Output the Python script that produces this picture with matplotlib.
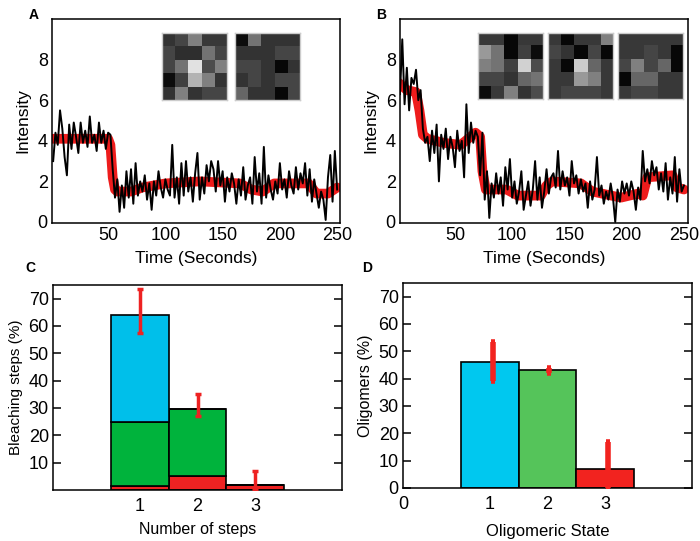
import numpy as np
import matplotlib
matplotlib.use('Agg')
from matplotlib import pyplot as plt

plt.rcParams['font.family'] = ['Liberation Sans', 'DejaVu Sans']

# --- traces (2 s sampling) ---
t_trace = list(range(2, 251, 2))
trace_a = [3.0, 4.4, 3.8, 5.5, 4.6, 3.2, 2.3, 4.8, 3.6, 4.9,
           4.2, 3.4, 4.9, 3.9, 4.5, 3.7, 5.2, 3.9, 4.3, 3.5,
           4.9, 3.9, 4.5, 3.6, 4.4, 4.3,
           2.6, 1.2, 2.1, 0.5,
           1.8, 0.7, 2.5, 1.2, 2.6, 0.9, 2.9, 1.3, 2.0, 1.5,
           2.3, 1.1, 1.9, 0.6, 2.0, 1.3, 2.5, 1.7, 1.2, 2.1,
           1.6, 1.3, 3.8, 1.2, 2.2, 0.9, 2.9, 1.3, 3.0, 1.5,
           2.2, 1.0, 2.4, 3.4, 1.1, 2.2, 1.4, 2.8, 2.0, 3.0,
           2.6, 1.5, 3.0, 1.8, 2.5, 1.0, 2.2, 1.5, 2.4, 1.9,
           0.9, 2.1, 1.3, 2.7, 1.1, 1.8, 2.2, 0.9, 3.2, 1.5,
           2.4, 0.9, 3.7, 1.2, 2.3, 1.6, 1.1, 2.0, 1.4, 2.9,
           1.6, 2.1, 1.2, 2.5, 1.8, 1.4, 2.7, 1.6, 2.4, 1.9,
           2.9, 1.3, 2.6, 1.0, 2.1, 1.4, 0.7, 1.5, 1.1, 0.1,
           2.2, 3.3, 1.0, 3.5, 1.6]
trace_b = [6.3, 9.0, 5.8, 7.6, 5.5, 7.1, 6.8, 7.5, 6.0, 6.5,
           4.6, 3.9, 4.2, 3.0, 4.5, 3.4, 4.8, 2.0, 4.3, 3.6,
           4.6, 3.1, 4.2, 3.7, 2.7, 4.5, 3.5, 4.0, 2.2, 5.8,
           3.4, 4.9, 3.9, 4.5, 4.2, 2.3, 4.4, 1.1, 2.5, 0.2,
           1.9, 1.2, 2.4, 1.4, 2.2, 0.8, 2.7, 1.6, 3.1, 1.2,
           2.0, 0.9, 1.5, 2.5, 0.6, 1.3, 2.0, 0.8, 1.6, 3.0,
           1.1, 2.2, 0.7, 1.5, 2.6, 1.4, 2.2, 2.4, 1.7, 3.5,
           1.6, 2.5, 1.8, 2.2, 1.3, 3.0, 1.9, 2.3, 1.4, 2.1,
           1.5, 1.9, 0.7, 2.0, 1.1, 1.6, 3.2, 1.3, 1.8, 0.9,
           1.5, 1.1, 1.9, 1.2, 0.0, 1.6, 1.0, 2.0, 1.4, 1.9,
           1.3, 2.0, 1.5, 0.6, 1.7, 1.1, 3.5, 2.0, 2.6, 1.9,
           3.0, 2.3, 2.7, 1.6, 2.4, 1.5, 2.9, 1.1, 2.2, 1.4,
           3.2, 1.0, 2.6, 1.5, 1.8]

# step fits (red)
t_fit_a = [0, 50, 52, 54, 56, 58, 70, 80, 100, 130, 165, 175, 185, 195, 225, 232, 242, 250]
fit_a = [4.1, 4.1, 3.8, 2.2, 1.6, 1.5, 1.5, 1.7, 1.9, 2.0, 1.9, 1.6, 1.5, 1.9, 1.9, 1.4, 1.4, 1.7]
t_fit_b = [0, 8, 16, 19, 22, 26, 40, 55, 68, 72, 74, 77, 95, 105, 125, 130, 135,
           160, 170, 195, 210, 214, 218, 240, 244, 250]
fit_b = [6.9, 6.5, 6.4, 5.5, 4.3, 4.1, 3.9, 3.8, 4.4, 4.2, 2.5, 1.6, 1.6, 1.3, 1.3, 1.8, 2.0,
         1.9, 1.5, 1.2, 1.4, 1.3, 2.2, 2.3, 1.7, 1.6]

# spot images (5x5, gray level)
img_a1 = [[0.20, 0.27, 0.50, 0.22, 0.22],
          [0.27, 0.18, 0.18, 0.45, 0.27],
          [0.27, 0.45, 0.88, 0.30, 0.50],
          [0.05, 0.25, 0.70, 0.50, 0.20],
          [0.20, 0.50, 0.20, 0.27, 0.27]]
img_a2 = [[0.05, 0.45, 0.20, 0.20, 0.20],
          [0.20, 0.20, 0.20, 0.27, 0.27],
          [0.27, 0.27, 0.20, 0.03, 0.20],
          [0.20, 0.27, 0.20, 0.27, 0.27],
          [0.40, 0.20, 0.20, 0.03, 0.27]]
img_b1 = [[0.22, 0.22, 0.03, 0.22, 0.22],
          [0.60, 0.45, 0.03, 0.25, 0.05],
          [0.50, 0.45, 0.25, 0.82, 0.30],
          [0.27, 0.27, 0.20, 0.40, 0.45],
          [0.05, 0.22, 0.50, 0.20, 0.30]]
img_b2 = [[0.22, 0.03, 0.22, 0.22, 0.50],
          [0.27, 0.20, 0.03, 0.27, 0.03],
          [0.22, 0.03, 0.80, 0.40, 0.22],
          [0.22, 0.22, 0.60, 0.50, 0.22],
          [0.22, 0.27, 0.27, 0.27, 0.22]]
img_b3 = [[0.22, 0.22, 0.22, 0.22, 0.22],
          [0.22, 0.22, 0.27, 0.22, 0.03],
          [0.27, 0.50, 0.27, 0.40, 0.03],
          [0.03, 0.40, 0.40, 0.22, 0.22],
          [0.22, 0.27, 0.27, 0.22, 0.22]]

# panel C: bleaching steps (stacked)
steps = [1, 2, 3]
c_red = [1.5, 5, 2]
c_green = [23.5, 24.5, 0]
c_blue = [39, 0, 0]
c_err_lo = [57.5, 27, 0.5]
c_err_hi = [73.5, 35, 7]
c_mean = [64, 29.5, 2]

# panel D: oligomeric state
states = [1, 2, 3]
d_vals = [46, 43, 7]
d_err_x = [1.05, 2.03, 3.05]
d_err_lo = [39, 42, 0]
d_err_hi = [53.5, 44, 17]

fig = plt.figure(figsize=(7, 5.41), dpi=100)

def trace_panel(rect, t_fit, fit, trace, label, xlim):
    ax = fig.add_axes(rect)
    ax.plot(t_fit, fit, color='#ee1c1c', lw=7, solid_capstyle='round', zorder=1)
    ax.plot(t_trace, trace, color='black', lw=1.4, zorder=2)
    ax.set_xlim(*xlim)
    ax.set_ylim(-0.05, 10)
    ax.set_xticks([50, 100, 150, 200, 250])
    ax.set_yticks([0, 2, 4, 6, 8])
    ax.tick_params(length=0, labelsize=13, pad=3)
    ax.set_xlabel('Time (Seconds)', fontsize=12.5, labelpad=5)
    ax.set_ylabel('Intensity', fontsize=12.5, labelpad=5)
    for s in ax.spines.values():
        s.set_linewidth(1.1)
    fig.text(rect[0] - 0.034, 0.965, label, fontsize=10, fontweight='bold')
    return ax

def spot(rect, img):
    ax = fig.add_axes(rect)
    ax.imshow(np.array(img), cmap='gray', vmin=0, vmax=1, interpolation='nearest', aspect='auto')
    ax.set_xticks([])
    ax.set_yticks([])
    for s in ax.spines.values():
        s.set_color('#cccccc')
        s.set_linewidth(1)

trace_panel([0.0743, 0.5878, 0.4114, 0.377], t_fit_a, fit_a, trace_a, 'A', (1, 252.5))
trace_panel([0.5714, 0.5878, 0.4114, 0.377], t_fit_b, fit_b, trace_b, 'B', (2, 253.5))

spot([0.2314, 0.815, 0.0929, 0.1238], img_a1)
spot([0.3357, 0.815, 0.0929, 0.1238], img_a2)
spot([0.6829, 0.817, 0.0929, 0.1220], img_b1)
spot([0.7829, 0.817, 0.0929, 0.1220], img_b2)
spot([0.8829, 0.817, 0.0929, 0.1220], img_b3)

def bar_axes(rect):
    ax = fig.add_axes(rect)
    ax.set_xlim(-0.5, 4.5)
    ax.set_ylim(0, 75)
    ax.tick_params(axis='y', direction='in', length=6, width=1.1, left=True, right=True,
                   labelsize=13, pad=3)
    ax.tick_params(axis='x', length=0, labelsize=13, pad=6)
    for s in ax.spines.values():
        s.set_linewidth(1.1)
    return ax

# C
axc = bar_axes([0.0757, 0.0943, 0.4129, 0.379])
bottom = np.zeros(3)
for vals, col in [(c_red, '#ee2222'), (c_green, '#00b33c'), (c_blue, '#00bfea')]:
    axc.bar(steps, vals, width=1.0, bottom=bottom, color=col, edgecolor='black', lw=1.2)
    bottom = bottom + np.array(vals)
yerr_c = [np.array(c_mean) - np.array(c_err_lo), np.array(c_err_hi) - np.array(c_mean)]
axc.errorbar(steps, c_mean, yerr=yerr_c, fmt='none', ecolor='#ee2222', elinewidth=2.5,
             capsize=2.5, capthick=2.5, zorder=5)
axc.set_xticks(steps)
axc.set_yticks([10, 20, 30, 40, 50, 60, 70])
axc.set_xlabel('Number of steps', fontsize=11.5, labelpad=5)
axc.set_ylabel('Bleaching steps (%)', fontsize=11, labelpad=4)
fig.text(0.036, 0.497, 'C', fontsize=10, fontweight='bold')

# D
axd = bar_axes([0.5757, 0.098, 0.4129, 0.379])
axd.bar(states, d_vals, width=1.0, color=['#00c8ef', '#55c45a', '#f2231f'],
        edgecolor='black', lw=1.2)
d_mid = [(lo + hi) / 2 for lo, hi in zip(d_err_lo, d_err_hi)]
d_half = [(hi - lo) / 2 for lo, hi in zip(d_err_lo, d_err_hi)]
axd.errorbar(d_err_x, d_mid, yerr=d_half, fmt='none', ecolor='#f2231f', elinewidth=4,
             capsize=1.5, capthick=4, zorder=5)
axd.set_xticks([-0.5, 1, 2, 3])
axd.set_xticklabels(['0', '1', '2', '3'])
axd.set_yticks([0, 10, 20, 30, 40, 50, 60, 70])
axd.set_xlabel('Oligomeric State', fontsize=12, labelpad=8)
axd.set_ylabel('Oligomers (%)', fontsize=11.5, labelpad=4)
fig.text(0.517, 0.497, 'D', fontsize=10, fontweight='bold')

fig.savefig('out.png', dpi=100)
